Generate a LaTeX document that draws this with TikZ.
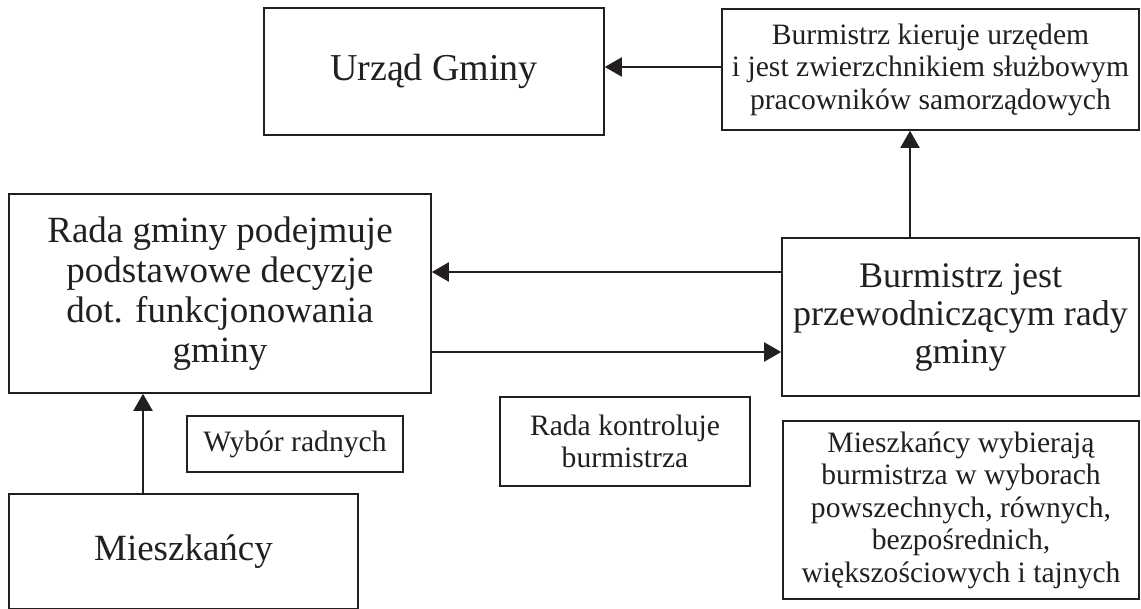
\documentclass[tikz,border=0pt]{standalone}
\usepackage{fontspec}
\setmainfont{Liberation Serif}
\usetikzlibrary{arrows.meta}
\definecolor{ink}{HTML}{231F20}
\begin{document}
\begin{tikzpicture}[x=1pt,y=-1pt,
  box/.style={draw=ink, line width=1.6pt, inner sep=0pt, align=center, text=ink},
  link/.style={draw=ink, line width=2pt, -{Triangle[length=17pt,width=19pt]}},
  huge/.style={font=\fontsize{38}{40}\selectfont},
  big/.style={font=\fontsize{37}{40}\selectfont},
  mid/.style={font=\fontsize{36}{38}\selectfont},
  small/.style={font=\fontsize{29.6}{32.5}\selectfont}]
\useasboundingbox (0,0) rectangle (1141,609);

% boxes
\node[box,huge,minimum width=340pt,minimum height=127pt] (urzad) at (434,71.5) {Urząd Gminy};
\node[box,small,minimum width=417pt,minimum height=121pt] (kieruje) at (930.5,69.5)
  {Burmistrz kieruje urzędem\\i jest zwierzchnikiem służbowym\\pracowników samorządowych};
\node[box,big,minimum width=422pt,minimum height=199pt] (rada) at (220,293.5)
  {Rada gminy podejmuje\\podstawowe decyzje\\dot. funkcjonowania\\gminy};
\node[box,mid,minimum width=357pt,minimum height=158pt] (jest) at (960.5,317)
  {Burmistrz jest\\przewodniczącym rady\\gminy};
\node[box,small,minimum width=216pt,minimum height=56pt] (wybor) at (295,444) {Wybór radnych};
\node[box,small,minimum width=250pt,minimum height=89pt] (kontrola) at (625,441.5)
  {Rada kontroluje\\burmistrza};
\node[box,small,minimum width=356pt,minimum height=178pt] (mwybor) at (961,510)
  {Mieszkańcy wybierają\\burmistrza w wyborach\\powszechnych, równych,\\bezpośrednich,\\większościowych i tajnych};
\node[box,big,minimum width=349pt,minimum height=115pt] (miesz) at (183.5,551.5) {Mieszkańcy};

% guide coordinates for the connector lines
\coordinate (rowA) at (0,67);
\coordinate (rowB) at (0,272);
\coordinate (rowC) at (0,352);
\coordinate (colA) at (910,0);
\coordinate (colB) at (143,0);

% connectors
\draw[link] (kieruje.west |- rowA) -- (urzad.east |- rowA);
\draw[link] (jest.west |- rowB) -- (rada.east |- rowB);
\draw[link] (rada.east |- rowC) -- (jest.west |- rowC);
\draw[link] (jest.north -| colA) -- (kieruje.south -| colA);
\draw[link] (miesz.north -| colB) -- (rada.south -| colB);
\end{tikzpicture}
\end{document}
